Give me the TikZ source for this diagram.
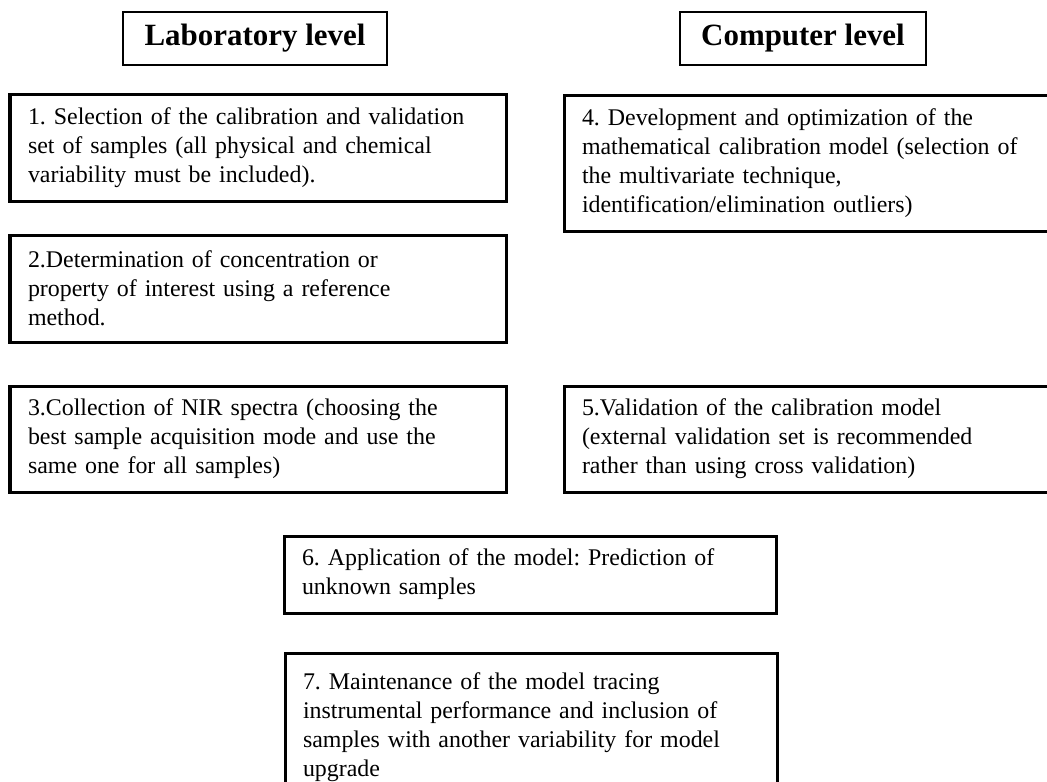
\documentclass[tikz,border=0pt]{standalone}
\usepackage{fontspec}
\setmainfont{Liberation Serif}
\usetikzlibrary{positioning}
\tikzset{
  hdrbox/.style  = {rectangle, draw=black, line width=0.07cm, outer sep=0pt,
                     minimum height=1.325cm, align=center,
                     font=\fontsize{22}{26}\selectfont\bfseries},
  stepbox/.style = {rectangle, draw=black, line width=0.075cm, outer sep=0pt,
                     anchor=north west, minimum width=12.4cm, text width=11.5cm,
                     inner xsep=0.45cm, align=left,
                     font=\fontsize{17}{20.6}\selectfont\frenchspacing},
}

\begin{document}
\begin{tikzpicture}[x=0.025cm, y=-0.025cm]
\useasboundingbox (0,0) rectangle (1047,782);

% column headers
\node[hdrbox, minimum width=6.6cm]  (hlab)  at (255,38.5) {Laboratory level};
\node[hdrbox, minimum width=6.15cm] (hcomp) at (803,38.5) {Computer level};

% laboratory steps
\node[stepbox, minimum height=2.65cm]  (step1) at (10,95)
  {1. Selection of the calibration and validation\\
   set of samples (all physical and chemical\\
   variability must be included).};
\node[stepbox, minimum height=2.675cm] (step2) at (10,235)
  {2.Determination of concentration or\\
   property of interest using a reference\\
   method.};
\node[stepbox, minimum height=2.65cm]  (step3) at (10,386)
  {3.Collection of NIR spectra (choosing the\\
   best sample acquisition mode and use the\\
   same one for all samples)};

% computer steps
\node[stepbox, minimum height=3.375cm] (step4) at (564,96)
  {4. Development and optimization of the\\
   mathematical calibration model (selection of\\
   the multivariate technique,\\
   identification/elimination outliers)};
\node[stepbox, minimum height=2.65cm]  (step5) at (564,386)
  {5.Validation of the calibration model\\
   (external validation set is recommended\\
   rather than using cross validation)};

% final steps
\node[stepbox, minimum width=12.3cm, text width=11.4cm, minimum height=1.925cm] (step6) at (284,536)
  {6. Application of the model: Prediction of\\
   unknown samples};
\node[stepbox, minimum width=12.3cm, text width=11.4cm, minimum height=3.7cm] (step7) at (285,653)
  {7. Maintenance of the model tracing\\
   instrumental performance and inclusion of\\
   samples with another variability for model\\
   upgrade};
\end{tikzpicture}
\end{document}
